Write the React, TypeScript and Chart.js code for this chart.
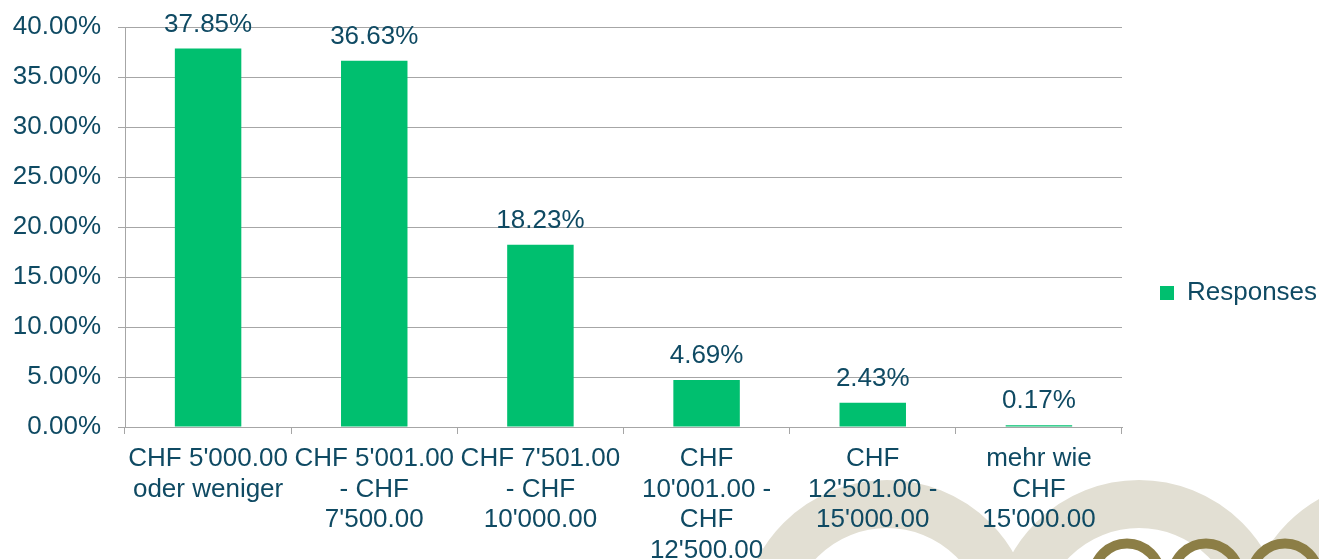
import React, { useEffect, useRef } from 'react';
import { Chart, registerables } from 'chart.js';

Chart.register(...registerables);

const categories: string[][] = [
  ["CHF 5'000.00", 'oder weniger'],
  ["CHF 5'001.00", '- CHF', "7'500.00"],
  ["CHF 7'501.00", '- CHF', "10'000.00"],
  ['CHF', "10'001.00 -", 'CHF', "12'500.00"],
  ['CHF', "12'501.00 -", "15'000.00"],
  ['mehr wie', 'CHF', "15'000.00"],
];
const responses: number[] = [37.85, 36.63, 18.23, 4.69, 2.43, 0.17];
const seriesName = 'Responses';
const yMin = 0;
const yMax = 40;
const yStep = 5;

const TEXT = '#0F4A63';
const GRID = '#A6A6A6';
const GREEN = '#00BF6F';
const FONT = '"Liberation Sans", Arial, sans-serif';

const logoPlugin = {
  id: 'logo',
  beforeDraw(chart: any) {
    const ctx = chart.ctx;
    ctx.save();
    ctx.fillStyle = '#ffffff';
    ctx.fillRect(0, 0, chart.width, chart.height);
    ctx.strokeStyle = '#E2DFD3';
    ctx.lineWidth = 48;
    [887, 1139, 1391].forEach((cx) => {
      ctx.beginPath();
      ctx.arc(cx, 626, 122, 0, Math.PI * 2);
      ctx.stroke();
    });
    ctx.strokeStyle = '#8C7E46';
    ctx.lineWidth = 10;
    [1127, 1206, 1285].forEach((cx) => {
      ctx.beginPath();
      ctx.arc(cx, 577, 33.5, 0, Math.PI * 2);
      ctx.stroke();
    });
    ctx.restore();
  },
};

const valueLabelPlugin = {
  id: 'valueLabels',
  afterDatasetsDraw(chart: any) {
    const ctx = chart.ctx;
    const meta = chart.getDatasetMeta(0);
    const data = chart.data.datasets[0].data as number[];
    ctx.save();
    ctx.font = `26px ${FONT}`;
    ctx.fillStyle = TEXT;
    ctx.textAlign = 'center';
    ctx.textBaseline = 'alphabetic';
    meta.data.forEach((bar: any, i: number) => {
      ctx.fillText(data[i].toFixed(2) + '%', bar.x, bar.y - 17);
    });
    ctx.restore();
  },
};

export default function App() {
  const ref = useRef<HTMLCanvasElement>(null);

  useEffect(() => {
    document.body.style.margin = '0';
    if (!ref.current) return;
    const chart = new Chart(ref.current, {
      type: 'bar',
      data: {
        labels: categories,
        datasets: [
          {
            label: seriesName,
            data: responses,
            backgroundColor: GREEN,
            borderWidth: 0,
            barPercentage: 0.4,
            categoryPercentage: 1,
          },
        ],
      },
      options: {
        animation: false,
        responsive: false,
        devicePixelRatio: 1,
        layout: { padding: { top: 27, left: 0, right: 0, bottom: 0 } },
        font: { family: FONT },
        plugins: {
          tooltip: { enabled: false },
          legend: {
            position: 'right',
            maxWidth: 197,
            labels: {
              boxWidth: 14,
              boxHeight: 14,
              padding: 38,
              color: TEXT,
              font: { family: FONT, size: 26 },
            },
          },
        },
        scales: {
          x: {
            offset: true,
            grid: {
              display: true,
              drawOnChartArea: false,
              drawTicks: true,
              tickLength: 7,
              offset: true,
              color: GRID,
            },
            border: { display: true, color: GRID, width: 1 },
            ticks: {
              color: TEXT,
              font: { family: FONT, size: 26, lineHeight: '30.5px' } as any,
              maxRotation: 0,
              minRotation: 0,
              autoSkip: false,
              padding: 10,
            },
            afterFit(scale: any) {
              scale.height = 132;
            },
          },
          y: {
            min: yMin,
            max: yMax,
            grid: {
              color: GRID,
              drawTicks: true,
              tickLength: 7,
            },
            border: { display: true, color: GRID, width: 1 },
            ticks: {
              stepSize: yStep,
              color: TEXT,
              font: { family: FONT, size: 26 },
              padding: 17,
              callback: (v: any) => Number(v).toFixed(2) + '%',
            },
            afterFit(scale: any) {
              scale.width = 125;
              scale.paddingTop = 0;
              scale.paddingBottom = 0;
            },
          },
        },
      },
      plugins: [logoPlugin, valueLabelPlugin],
    });
    return () => chart.destroy();
  }, []);

  return (
    <div style={{ width: 1319, height: 559 }}>
      <canvas ref={ref} width={1319} height={559} style={{ display: 'block' }} />
    </div>
  );
}
